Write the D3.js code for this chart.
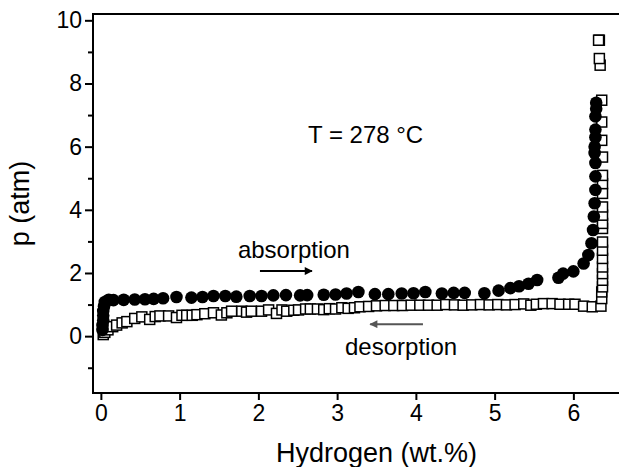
<!DOCTYPE html>
<html>
<head>
<meta charset="utf-8">
<script src="https://cdn.jsdelivr.net/npm/d3@7"></script>
<style>
    body { margin: 0; background: #fff; }
    svg text { font-family: Arial, "Liberation Sans", Helvetica, sans-serif; fill: #000; }
    .axis path, .axis line { stroke: #000; stroke-width: 2; }
    .axis text { font-size: 23px; }
</style>
</head>
<body>
<div id="chart"></div>
<script>

// absorption (filled circles)
var absorptionX = [0.02, 0.02, 0.03, 0.03, 0.03, 0.04, 0.05, 0.10, 0.16, 0.29, 0.43, 0.56, 0.67, 0.79, 0.96,
    1.15, 1.29, 1.43, 1.58, 1.72, 1.89, 2.04, 2.19, 2.35, 2.53, 2.62, 2.83, 2.98, 3.12, 3.27, 3.48, 3.65,
    3.82, 3.97, 4.12, 4.33, 4.48, 4.62, 4.87, 5.05, 5.20, 5.31, 5.43, 5.54, 5.81, 5.87, 6.00, 6.13, 6.19,
    6.23, 6.25, 6.26, 6.27, 6.28, 6.28, 6.28, 6.27, 6.27, 6.28, 6.28, 6.28, 6.29, 6.29];
var absorptionP = [0.20, 0.35, 0.50, 0.65, 0.80, 0.95, 1.08, 1.15, 1.14, 1.15, 1.16, 1.17, 1.18, 1.20, 1.24,
    1.22, 1.24, 1.27, 1.27, 1.25, 1.27, 1.27, 1.29, 1.30, 1.29, 1.30, 1.31, 1.32, 1.35, 1.40, 1.33, 1.33,
    1.35, 1.36, 1.40, 1.35, 1.37, 1.37, 1.36, 1.44, 1.52, 1.58, 1.66, 1.78, 1.85, 1.98, 2.05, 2.30, 2.57,
    2.94, 3.36, 3.79, 4.21, 4.63, 5.06, 5.48, 5.80, 6.00, 6.30, 6.54, 6.96, 7.20, 7.39];

// desorption (open squares)
var desorptionX = [0.03, 0.05, 0.09, 0.15, 0.20, 0.27, 0.33, 0.43, 0.52, 0.62, 0.69, 0.75, 0.86, 0.96, 1.03,
    1.09, 1.16, 1.22, 1.32, 1.43, 1.53, 1.60, 1.66, 1.79, 1.85, 1.91, 2.04, 2.13, 2.23, 2.30, 2.36, 2.45,
    2.51, 2.60, 2.66, 2.75, 2.83, 2.90, 2.98, 3.06, 3.14, 3.22, 3.29, 3.40, 3.50, 3.61, 3.72, 3.83, 3.94,
    4.05, 4.16, 4.27, 4.38, 4.49, 4.60, 4.71, 4.82, 4.93, 5.04, 5.15, 5.26, 5.37, 5.46, 5.53, 5.62, 5.73,
    5.83, 5.94, 6.02, 6.13, 6.24, 6.35,
    6.36, 6.36, 6.37, 6.37, 6.37, 6.37, 6.37, 6.37, 6.37, 6.37, 6.37, 6.37, 6.37, 6.37, 6.37, 6.37,
    6.37, 6.36, 6.36, 6.36, 6.34, 6.33, 6.33, 6.32];
var desorptionP = [0.05, 0.12, 0.20, 0.30, 0.35, 0.42, 0.46, 0.56, 0.61, 0.53, 0.62, 0.64, 0.64, 0.59, 0.66,
    0.66, 0.66, 0.68, 0.71, 0.74, 0.67, 0.74, 0.79, 0.79, 0.76, 0.79, 0.79, 0.83, 0.72, 0.83, 0.79, 0.82,
    0.83, 0.86, 0.86, 0.86, 0.84, 0.87, 0.86, 0.90, 0.88, 0.90, 0.93, 0.94, 0.96, 0.97, 0.97, 0.97, 0.98,
    0.98, 0.98, 0.98, 1.00, 0.99, 0.98, 0.99, 1.00, 0.99, 1.00, 0.99, 1.00, 1.02, 0.98, 1.01, 1.03, 1.03,
    1.01, 1.01, 1.01, 0.95, 0.93, 0.95,
    1.19, 1.40, 1.56, 1.77, 1.98, 2.19, 2.46, 2.72, 2.98, 3.41, 3.57, 3.83, 4.09, 4.52, 4.83, 5.09,
    5.67, 6.20, 6.78, 7.47, 8.58, 8.79, 9.37, 9.37];

var xTicks = [0, 1, 2, 3, 4, 5, 6];
var yTicks = [0, 2, 4, 6, 8, 10];
var yMinorTicks = [-1, 1, 3, 5, 7, 9];


drawChart();


function drawChart() {
    var width = 619;
    var height = 467;
    var margin = { left: 93, top: 14, bottom: 74 };

    var x = d3.scaleLinear().domain([-0.1, 7.1]).range([margin.left, margin.left + 567]);
    var y = d3.scaleLinear().domain([-1.8, 10.2]).range([height - margin.bottom, margin.top]);

    var svg = d3.select("#chart").append("svg")
        .attr("width", width)
        .attr("height", height);

    // frame (right side runs off the picture)
    svg.append("rect")
        .attr("x", x(-0.1))
        .attr("y", y(10.2))
        .attr("width", x(7.1) - x(-0.1))
        .attr("height", y(-1.8) - y(10.2))
        .attr("fill", "none")
        .attr("stroke", "#000")
        .attr("stroke-width", 2);

    // x axis
    svg.append("g")
        .attr("class", "axis")
        .attr("transform", "translate(0," + y(-1.8) + ")")
        .call(d3.axisBottom(x).tickValues(xTicks).tickSize(7).tickSizeOuter(0).tickPadding(5).tickFormat(d3.format("d")));

    // y axis
    svg.append("g")
        .attr("class", "axis")
        .attr("transform", "translate(" + x(-0.1) + ",0)")
        .call(d3.axisLeft(y).tickValues(yTicks).tickSize(8).tickSizeOuter(0).tickPadding(3).tickFormat(d3.format("d")));

    // y minor ticks
    svg.append("g")
        .attr("class", "axis")
        .attr("transform", "translate(" + x(-0.1) + ",0)")
        .call(d3.axisLeft(y).tickValues(yMinorTicks).tickSize(5).tickSizeOuter(0).tickFormat(""));

    svg.selectAll(".axis .domain").remove();

    // axis titles
    svg.append("text")
        .attr("x", x(3.5))
        .attr("y", 462)
        .style("font-size", "27px")
        .style("text-anchor", "middle")
        .text("Hydrogen (wt.%)");

    svg.append("text")
        .attr("transform", "translate(29," + y(4.2) + ") rotate(-90)")
        .style("font-size", "27px")
        .style("text-anchor", "middle")
        .text("p (atm)");

    // desorption squares
    var s = 10;
    svg.append("g").selectAll("rect")
        .data(d3.range(desorptionX.length))
        .join("rect")
        .attr("x", function (i) { return x(desorptionX[i]) - s / 2; })
        .attr("y", function (i) { return y(desorptionP[i]) - s / 2; })
        .attr("width", s)
        .attr("height", s)
        .attr("fill", "#fff")
        .attr("stroke", "#000")
        .attr("stroke-width", 1.5);

    // absorption circles
    svg.append("g").selectAll("circle")
        .data(d3.range(absorptionX.length))
        .join("circle")
        .attr("cx", function (i) { return x(absorptionX[i]); })
        .attr("cy", function (i) { return y(absorptionP[i]); })
        .attr("r", 6.3)
        .attr("fill", "#000");

    // arrow heads
    var defs = svg.append("defs");
    defs.append("marker")
        .attr("id", "headBlack")
        .attr("viewBox", "0 0 10 10")
        .attr("refX", 9).attr("refY", 5)
        .attr("markerWidth", 5).attr("markerHeight", 4)
        .attr("orient", "auto")
        .append("path").attr("d", "M0,0L10,5L0,10z").attr("fill", "#000");
    defs.append("marker")
        .attr("id", "headGray")
        .attr("viewBox", "0 0 10 10")
        .attr("refX", 9).attr("refY", 5)
        .attr("markerWidth", 5).attr("markerHeight", 4)
        .attr("orient", "auto")
        .append("path").attr("d", "M0,0L10,5L0,10z").attr("fill", "#555");

    // annotations
    svg.append("text")
        .attr("x", x(2.63))
        .attr("y", y(6.11))
        .style("font-size", "24px")
        .text("T = 278 °C");

    svg.append("text")
        .attr("x", x(1.74))
        .attr("y", y(2.49))
        .style("font-size", "24px")
        .text("absorption");

    svg.append("line")
        .attr("x1", x(2.02)).attr("y1", y(2.06))
        .attr("x2", x(2.68)).attr("y2", y(2.06))
        .attr("stroke", "#000")
        .attr("stroke-width", 2)
        .attr("marker-end", "url(#headBlack)");

    svg.append("text")
        .attr("x", x(3.10))
        .attr("y", y(-0.6))
        .style("font-size", "24px")
        .text("desorption");

    svg.append("line")
        .attr("x1", x(4.09)).attr("y1", y(0.38))
        .attr("x2", x(3.42)).attr("y2", y(0.38))
        .attr("stroke", "#555")
        .attr("stroke-width", 2)
        .attr("marker-end", "url(#headGray)");
}

</script>
</body>
</html>
